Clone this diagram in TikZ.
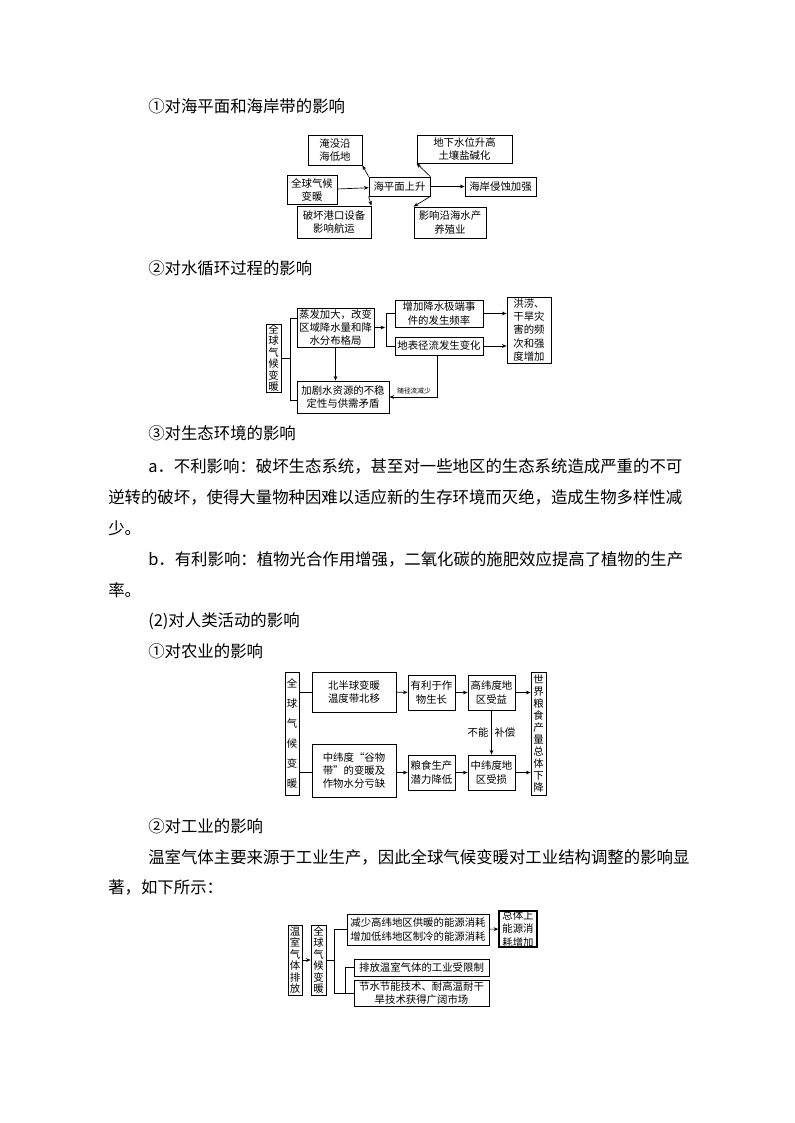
\documentclass[tikz,border=0pt]{standalone}
\usepackage{fontspec}
\setmainfont{Noto Sans CJK SC}
\usetikzlibrary{arrows.meta}
\tikzset{
 B/.style 2 args={draw,line width=0.6pt,minimum width=#1*0.75pt,minimum height=#2*0.75pt,inner sep=0pt,align=center,font=\fontsize{7.8}{10}\selectfont},
 V/.style={font=\fontsize{7.8}{8.6}\selectfont},
 ar/.style={-{Stealth[length=3.5pt,width=2.8pt]},line width=0.5pt},
 ln/.style={line width=0.6pt},
 T/.style={anchor=west,inner sep=0pt,font=\fontsize{12.3}{14}\selectfont}
}
\begin{document}
\begin{tikzpicture}[x=0.75pt,y=-0.75pt]
\useasboundingbox (0,0) rectangle (794,1123);
% body text
\node[T] (t1) at (148,106) {①对海平面和海岸带的影响};
\node[T] (t2) at (148,268) {②对水循环过程的影响};
\node[T] (t3) at (148,433) {③对生态环境的影响};
\node[T] (t4) at (148,466) {a．不利影响：破坏生态系统，甚至对一些地区的生态系统造成严重的不可};
\node[T] (t5) at (108,497) {逆转的破坏，使得大量物种因难以适应新的生存环境而灭绝，造成生物多样性减};
\node[T] (t6) at (108,528) {少。};
\node[T] (t7) at (148,559) {b．有利影响：植物光合作用增强，二氧化碳的施肥效应提高了植物的生产};
\node[T] (t8) at (108,590) {率。};
\node[T] (t9) at (148,621) {(2)对人类活动的影响};
\node[T] (t10) at (148,651) {①对农业的影响};
\node[T] (t11) at (148,826) {②对工业的影响};
\node[T] (t12) at (148,857) {温室气体主要来源于工业生产，因此全球气候变暖对工业结构调整的影响显};
\node[T] (t13) at (108,887) {著，如下所示：};
% diagram 1
\node[B={50}{29}] (a1) at (312,190) {全球气候\\变暖};
\node[B={61}{19}] (a2) at (399.5,186.5) {海平面上升};
\node[B={54}{30}] (a3) at (335,150) {淹没沿\\海低地};
\node[B={95}{28}] (a4) at (464.5,149) {地下水位升高\\土壤盐碱化};
\node[B={71}{19}] (a5) at (500.5,186.5) {海岸侵蚀加强};
\node[B={74}{32}] (a6) at (334,222) {破坏港口设备\\影响航运};
\node[B={72}{31}] (a7) at (450,222.5) {影响沿海水产\\养殖业};
\draw[ar] (a1) -- (a2);
\draw[ar] (a2) -- (a5);
\draw[ar] (a2.north west) -- (a3.south east);
\draw[ar] (a2.north east) -- (a4.south west);
\draw[ar] (a2.south west) -- (a6.north east);
\draw[ar] (a2.south east) -- (a7.north west);
% diagram 2
\node[B={15}{68},V] (b1) at (273.5,358) {全\\球\\气\\候\\变\\暖};
\node[B={77}{39}] (b2) at (335.5,327.5) {蒸发加大，改变\\区域降水量和降\\水分布格局};
\node[B={92}{32}] (b3) at (343,397) {加剧水资源的不稳\\定性与供需矛盾};
\node[B={88}{27}] (b4) at (439,313.5) {增加降水极端事\\件的发生频率};
\node[B={88}{18}] (b5) at (439,346) {地表径流发生变化};
\node[B={44}{66}] (b6) at (529,330) {洪涝、\\干旱灾\\害的频\\次和强\\度增加};
\coordinate (bj) at (290,358);
\draw[ln] (b1.east) -- (bj);
\draw[ln] (290,318) -- (290,400);
\draw[ln] (290,318) -- (b2.west |- 0,318);
\draw[ln] (290,400) -- (b3.west |- 0,400);
\draw[ar] (b2.east) -- (385,327.5);
\draw[ln] (b4.west) -- (386,313.5) -- (386,346) -- (b5.west);
\draw[ar] (b4.east) -- (b6.west |- b4.east);
\draw[ar] (b5.east) -- (b6.west |- b5.east);
\draw[ar] (b2.south) -- (b2.south |- b3.north);
\draw[ar] (437,355) -- (437,397) -- (b3.east |- 0,397);
\node[font=\fontsize{5}{6}\selectfont,inner sep=0pt] (bl) at (414,391) {随径流减少};
% diagram 3
\node[B={14}{123},font=\fontsize{7.8}{15}\selectfont] (c1) at (292,733.5) {全\\球\\气\\候\\变\\暖};
\node[B={84}{40}] (c2) at (354,692) {北半球变暖\\温度带北移};
\node[B={47}{35}] (c3) at (431.5,692.5) {有利于作\\物生长};
\node[B={47}{35}] (c4) at (491.5,692.5) {高纬度地\\区受益};
\node[B={15}{123},font=\fontsize{7.8}{9}\selectfont] (c5) at (538.5,733.5) {世\\界\\粮\\食\\产\\量\\总\\体\\下\\降};
\node[B={84}{53}] (c6) at (354,770.5) {中纬度“谷物\\带”的变暖及\\作物水分亏缺};
\node[B={47}{35}] (c7) at (431.5,772.5) {粮食生产\\潜力降低};
\node[B={47}{35}] (c8) at (491.5,772.5) {中纬度地\\区受损};
\draw[ln] (c1.east |- c2.west) -- (c2.west);
\draw[ln] (c1.east |- 0,772) -- (c6.west |- 0,772);
\draw[ar] (c2) -- (c3);
\draw[ar] (c3) -- (c4);
\draw[ar] (c4.east) -- (c5.west |- c4.east);
\draw[ar] (c6.east |- c7.west) -- (c7.west);
\draw[ar] (c7) -- (c8);
\draw[ar] (c8.east) -- (c5.west |- c8.east);
\draw[ar] (c4.south) -- (c8.north) node[midway,left,font=\fontsize{7.8}{9}\selectfont,inner sep=2pt] {不能} node[midway,right,font=\fontsize{7.8}{9}\selectfont,inner sep=2pt] {补偿};
% diagram 4
\node[B={14}{70},V] (d1) at (295,960) {温\\室\\气\\体\\排\\放};
\node[B={15}{70},V] (d2) at (318.5,960) {全\\球\\气\\候\\变\\暖};
\node[B={142}{31}] (d3) at (418,929.5) {减少高纬地区供暖的能源消耗\\增加低纬地区制冷的能源消耗};
\node[B={38}{34},line width=1pt] (d4) at (518,929) {总体上\\能源消\\耗增加};
\node[B={135}{17}] (d5) at (421.5,967.5) {排放温室气体的工业受限制};
\node[B={135}{26}] (d6) at (421.5,993) {节水节能技术、耐高温耐干\\旱技术获得广阔市场};
\draw[ar] (d1) -- (d2);
\draw[ln] (d2.east) -- (334,960);
\draw[ln] (d3.west) -- (334,929.5) -- (334,993) -- (d6.west);
\draw[ln] (345,967.5) -- (345,993);
\draw[ln] (345,967.5) -- (d5.west);
\draw[ar] (d3) -- (d4);
\end{tikzpicture}
\end{document}
